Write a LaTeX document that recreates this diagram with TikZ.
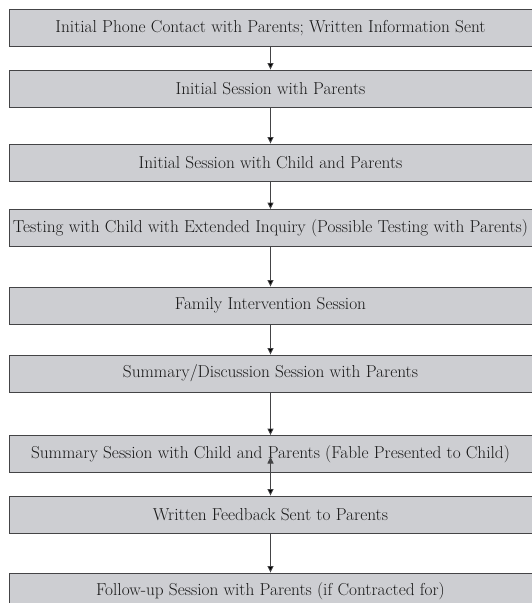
\documentclass[tikz,border=0pt]{standalone}
\usepackage{tikz}
\usetikzlibrary{arrows.meta,positioning}
\definecolor{boxgray}{RGB}{205,206,210}
\definecolor{linegray}{RGB}{68,68,70}

\begin{document}
\begin{tikzpicture}[on grid,auto,
    stage/.style={draw=linegray,fill=boxgray,line width=0.9pt,minimum width=523pt,
      minimum height=37pt,inner sep=0pt,font=\fontsize{17.3}{20}\selectfont,text=black!90},
    flow/.style={-{Triangle[width=6pt,length=6.5pt]},draw=linegray,line width=0.9pt}]
   \useasboundingbox (0,0) rectangle (531pt,-603pt);

   \node[stage] (b1) at (270.5pt,-28pt) {Initial Phone Contact with Parents; Written Information Sent};
   \node[stage] (b2) [below=60.5pt of b1] {Initial Session with Parents};
   \node[stage] (b3) [below=74pt of b2] {Initial Session with Child and Parents};
   \node[stage] (b4) [below=65.5pt of b3] {Testing with Child with Extended Inquiry (Possible Testing with Parents)};
   \node[stage] (b5) [below=77.5pt of b4] {Family Intervention Session};
   \node[stage] (b6) [below=68pt of b5] {Summary/Discussion Session with Parents};
   \node[stage] (b7) [below=80.5pt of b6] {Summary Session with Child and Parents (Fable Presented to Child)};
   \node[stage] (b8) [below=60.5pt of b7] {Written Feedback Sent to Parents};
   \node[stage] (b9) [below=77pt of b8] {Follow-up Session with Parents (if Contracted for)};

   \path[flow]
    (b1) edge (b2)
    (b2) edge (b3)
    (b3) edge (b4)
    (b4) edge (b5)
    (b5) edge (b6)
    (b6) edge (b7)
    % this one starts inside the box
    ([yshift=-3pt]b7.center) edge (b8)
    (b8) edge (b9);
\end{tikzpicture}
\end{document}
